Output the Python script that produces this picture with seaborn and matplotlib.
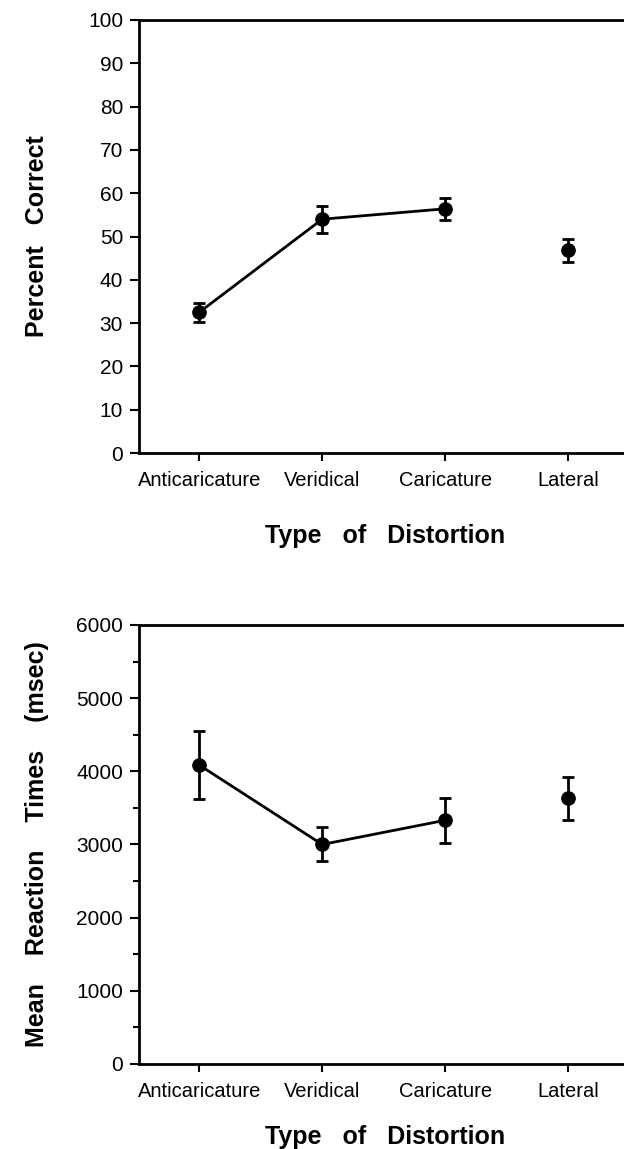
import matplotlib
matplotlib.use("Agg")
import matplotlib.pyplot as plt
import seaborn as sns
import pandas as pd
from matplotlib.ticker import MultipleLocator

# values
categories = ["Anticaricature", "Veridical", "Caricature", "Lateral"]
connected = [True, True, True, False]

pct_mean = [32.5, 54.0, 56.4, 46.8]
pct_err = [2.2, 3.1, 2.6, 2.7]

rt_mean = [4085, 3000, 3330, 3630]
rt_err = [470, 232, 310, 290]

sns.set_theme(style="ticks")
plt.rcParams["font.family"] = ["Liberation Sans", "DejaVu Sans"]
plt.rcParams["axes.edgecolor"] = "black"
plt.rcParams["axes.labelcolor"] = "black"
plt.rcParams["xtick.color"] = "black"
plt.rcParams["ytick.color"] = "black"
plt.rcParams["text.color"] = "black"


def draw_panel(ax, means, errs, ylabel, ymax, major, minor, xlab_y):
    df = pd.DataFrame({"pos": range(len(categories)), "mean": means,
                       "err": errs, "connected": connected})
    line_df = df[df["connected"]]
    sns.lineplot(data=line_df, x="pos", y="mean", color="black",
                 linewidth=2.0, errorbar=None, ax=ax)
    ax.errorbar(df["pos"], df["mean"], yerr=df["err"], fmt="none",
                ecolor="black", elinewidth=2.0, capsize=4.3, capthick=2.0,
                zorder=3)
    sns.scatterplot(data=df, x="pos", y="mean", color="black",
                    edgecolor="black", s=95, zorder=4, ax=ax)

    ax.set_xlim(-0.49, 3.455)
    ax.set_ylim(0, ymax)
    ax.yaxis.set_major_locator(MultipleLocator(major))
    if minor:
        ax.yaxis.set_minor_locator(MultipleLocator(minor))
    ax.set_xticks(range(len(categories)))
    ax.set_xticklabels(categories, fontsize=14.5)
    ax.tick_params(axis="y", labelsize=15, length=6.5, width=1.5, pad=5)
    ax.tick_params(axis="y", which="minor", length=4, width=1.5)
    ax.tick_params(axis="x", length=6, width=1.5, pad=7)

    for side in ["left", "bottom", "top"]:
        ax.spines[side].set_linewidth(2)
        ax.spines[side].set_color("black")
    ax.spines["right"].set_visible(False)

    ax.set_xlabel("Type   of   Distortion", fontsize=18, fontweight="bold")
    ax.set_ylabel(ylabel, fontsize=18, fontweight="bold")
    ax.xaxis.set_label_coords(0.508, xlab_y)
    ax.yaxis.set_label_coords(-0.186, 0.5)


fig = plt.figure(figsize=(6.24, 11.49), dpi=100)
fig.patch.set_facecolor("white")

ax1 = fig.add_axes([0.2228, 0.6057, 0.7772, 0.3769])
draw_panel(ax1, pct_mean, pct_err, "Percent   Correct", 100, 10, None, -0.164)

ax2 = fig.add_axes([0.2228, 0.0740, 0.7772, 0.3821])
draw_panel(ax2, rt_mean, rt_err, "Mean    Reaction    Times    (msec)",
           6000, 1000, 500, -0.139)

fig.savefig("out.png", dpi=100, facecolor="white")
